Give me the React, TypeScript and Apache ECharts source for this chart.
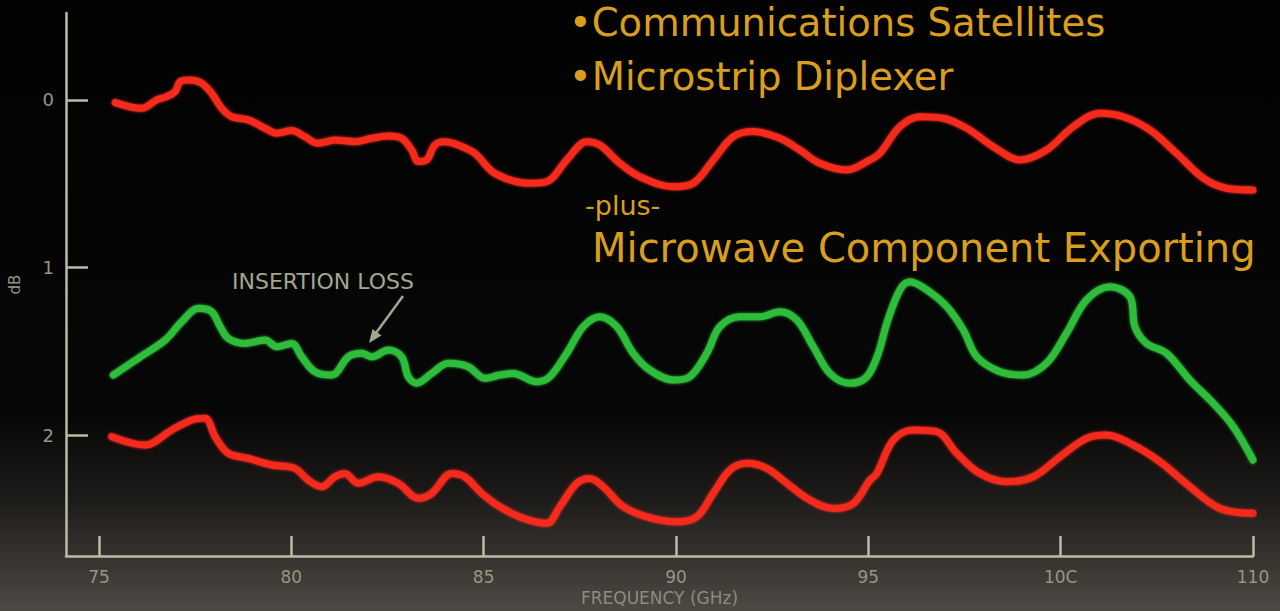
import React, { useEffect, useRef } from "react";
import * as echarts from "echarts";

// Frequency (GHz) and loss (dB) samples for each trace
const upperFreq = [75.42, 76.11, 76.5, 76.76, 76.98, 77.11, 77.37, 77.67, 77.93, 78.19, 78.45, 78.88, 79.32, 79.62, 80.01, 80.35, 80.7, 81.13, 81.65, 82.09, 82.52, 82.87, 83.13, 83.3, 83.52, 83.73, 83.99, 84.34, 84.77, 85.29, 86.2, 86.64, 87.16, 87.68, 88.02, 88.54, 89.06, 89.93, 90.45, 90.97, 91.49, 92.01, 92.7, 93.22, 93.74, 94.44, 95.04, 95.3, 95.82, 96.34, 96.95, 97.56, 98.25, 98.94, 99.63, 100.33, 101.02, 101.63, 102.32, 103.01, 103.71, 104.31, 105.0];
const upperLoss = [0.016, 0.05, 0.0, -0.02, -0.05, -0.109, -0.119, -0.1, -0.04, 0.05, 0.1, 0.119, 0.169, 0.199, 0.183, 0.219, 0.259, 0.239, 0.249, 0.229, 0.215, 0.229, 0.299, 0.368, 0.358, 0.269, 0.249, 0.269, 0.318, 0.438, 0.497, 0.488, 0.358, 0.249, 0.269, 0.378, 0.458, 0.518, 0.497, 0.358, 0.219, 0.189, 0.229, 0.299, 0.378, 0.418, 0.358, 0.318, 0.159, 0.1, 0.109, 0.169, 0.279, 0.358, 0.299, 0.159, 0.079, 0.1, 0.179, 0.318, 0.467, 0.527, 0.537];

const insertionFreq = [75.37, 76.02, 76.72, 77.15, 77.58, 77.93, 78.15, 78.36, 78.8, 79.32, 79.62, 80.01, 80.27, 80.61, 81.05, 81.48, 81.83, 82.09, 82.52, 82.87, 83.04, 83.26, 83.65, 84.08, 84.6, 85.03, 85.42, 85.77, 86.38, 86.72, 87.16, 87.59, 88.02, 88.46, 88.89, 89.32, 89.93, 90.36, 90.8, 91.14, 91.66, 92.18, 92.7, 93.14, 93.57, 94.0, 94.52, 94.96, 95.26, 95.48, 95.82, 96.08, 96.52, 97.04, 97.47, 97.82, 98.42, 99.03, 99.63, 100.15, 100.67, 101.28, 101.8, 101.93, 102.23, 102.75, 103.36, 103.97, 104.49, 105.0];
const insertionLoss = [1.642, 1.542, 1.433, 1.324, 1.244, 1.264, 1.353, 1.423, 1.453, 1.433, 1.473, 1.453, 1.533, 1.622, 1.642, 1.533, 1.512, 1.533, 1.493, 1.533, 1.652, 1.691, 1.632, 1.572, 1.592, 1.661, 1.642, 1.632, 1.682, 1.652, 1.512, 1.353, 1.294, 1.353, 1.512, 1.612, 1.672, 1.652, 1.512, 1.353, 1.294, 1.294, 1.264, 1.313, 1.473, 1.632, 1.691, 1.652, 1.512, 1.333, 1.134, 1.085, 1.134, 1.234, 1.373, 1.533, 1.622, 1.642, 1.572, 1.393, 1.194, 1.115, 1.174, 1.353, 1.453, 1.512, 1.672, 1.811, 1.95, 2.149];

const lowerFreq = [75.33, 76.2, 76.89, 77.41, 77.76, 78.02, 78.36, 78.88, 79.49, 80.09, 80.44, 80.79, 81.13, 81.39, 81.74, 82.26, 82.78, 83.3, 83.65, 84.17, 84.51, 84.95, 85.42, 86.03, 86.64, 86.98, 87.42, 87.76, 88.11, 88.63, 89.24, 90.02, 90.54, 90.97, 91.4, 91.84, 92.36, 92.88, 93.48, 94.09, 94.61, 95.04, 95.22, 95.65, 96.17, 96.78, 97.3, 97.9, 98.6, 99.29, 99.98, 100.67, 101.19, 101.89, 102.58, 103.36, 104.14, 105.0];
const lowerLoss = [2.01, 2.06, 1.97, 1.91, 1.9, 2.01, 2.109, 2.139, 2.179, 2.199, 2.269, 2.309, 2.249, 2.229, 2.288, 2.249, 2.288, 2.378, 2.348, 2.229, 2.249, 2.348, 2.428, 2.497, 2.527, 2.428, 2.288, 2.259, 2.309, 2.428, 2.488, 2.518, 2.488, 2.348, 2.209, 2.169, 2.199, 2.288, 2.388, 2.438, 2.408, 2.269, 2.229, 2.03, 1.97, 1.98, 2.109, 2.229, 2.279, 2.249, 2.13, 2.02, 2.0, 2.06, 2.159, 2.309, 2.438, 2.467];

// Axis ticks and their printed labels
const freqTicks = [75, 80, 85, 90, 95, 100, 105];
const freqTickLabels = ["75", "80", "85", "90", "95", "10C", "110"];
const dbTicks = [0, 1, 2];

const headline = ["\u2022Communications Satellites", "\u2022Microstrip Diplexer"];
const plusText = "-plus-";
const subline = "Microwave Component Exporting";
const calloutText = "INSERTION LOSS";

const RED = "#f3291d";
const GREEN = "#2fbd3a";
const GOLD = "#d99f1c";
const AXIS = "#b7bca4";
const LABEL = "#959683";
const CALLOUT = "#a2a68f";

const zip = (xs: number[], ys: number[]) => xs.map((x, i) => [x, ys[i]]);

export default function App() {
  const ref = useRef<HTMLDivElement>(null);

  useEffect(() => {
    document.body.style.margin = "0";
    const chart = echarts.init(ref.current!, undefined, { renderer: "svg" });

    const lineSeries = (name: string, data: number[][], color: string) => ({
      name,
      type: "line",
      data,
      smooth: 0.35,
      showSymbol: false,
      symbol: "none",
      lineStyle: { color, width: 7, cap: "round", join: "round", shadowColor: color, shadowBlur: 3 },
      z: 3,
    });

    const goldText = (text: string, x: number, y: number, fontSize: number) => ({
      type: "text",
      x,
      y,
      style: { text, fill: GOLD, fontSize, fontFamily: "DejaVu Sans", textVerticalAlign: "middle", verticalAlign: "middle" },
    });

    chart.setOption({
      animation: false,
      backgroundColor: {
        type: "linear",
        x: 0,
        y: 0,
        x2: 0,
        y2: 1,
        colorStops: [
          { offset: 0, color: "#020202" },
          { offset: 0.68, color: "#070707" },
          { offset: 0.82, color: "#1e1c1a" },
          { offset: 1, color: "#4d4943" },
        ],
      },
      grid: { left: 66, right: 27, top: 13, bottom: 55, containLabel: false, outerBoundsMode: "none" },
      xAxis: {
        type: "value",
        min: 74.142,
        max: 105,
        name: "FREQUENCY (GHz)",
        nameLocation: "middle",
        nameGap: 33,
        nameTextStyle: { color: "#8e8b7f", fontSize: 17, fontFamily: "DejaVu Sans" },
        axisLine: { show: true, onZero: false, lineStyle: { color: AXIS, width: 2.5 } },
        axisTick: {
          show: true,
          inside: true,
          length: 20,
          customValues: freqTicks,
          lineStyle: { color: AXIS, width: 2.5 },
        },
        axisLabel: {
          customValues: freqTicks,
          margin: 12,
          color: LABEL,
          fontSize: 17,
          fontFamily: "DejaVu Sans",
          formatter: (v: number) => freqTickLabels[freqTicks.indexOf(Math.round(v))] ?? "",
        },
        splitLine: { show: false },
      },
      yAxis: {
        type: "value",
        inverse: true,
        min: -0.519,
        max: 2.722,
        name: "dB",
        nameLocation: "middle",
        nameGap: 44,
        nameTextStyle: { color: LABEL, fontSize: 15, fontFamily: "DejaVu Sans" },
        axisLine: { show: true, onZero: false, lineStyle: { color: AXIS, width: 2.5 } },
        axisTick: {
          show: true,
          inside: true,
          length: 22,
          customValues: dbTicks,
          lineStyle: { color: AXIS, width: 2.5 },
        },
        axisLabel: {
          customValues: dbTicks,
          margin: 12,
          color: LABEL,
          fontSize: 18,
          fontFamily: "DejaVu Sans",
        },
        splitLine: { show: false },
      },
      series: [
        lineSeries("Upper", zip(upperFreq, upperLoss), RED),
        lineSeries("Insertion loss", zip(insertionFreq, insertionLoss), GREEN),
        lineSeries("Lower", zip(lowerFreq, lowerLoss), RED),
      ],
      graphic: [
        goldText(headline[0], 569, 22, 38.5),
        goldText(headline[1], 569, 76, 38.5),
        goldText(plusText, 585, 205, 27),
        goldText(subline, 592, 248, 40),
        {
          type: "text",
          x: 232,
          y: 281,
          style: { text: calloutText, fill: CALLOUT, fontSize: 22, fontFamily: "DejaVu Sans", textVerticalAlign: "middle", verticalAlign: "middle" },
        },
        {
          type: "line",
          shape: { x1: 403, y1: 296, x2: 376, y2: 333 },
          style: { stroke: CALLOUT, lineWidth: 2.5 },
        },
        {
          type: "polygon",
          shape: { points: [[369, 343], [381.5, 335.5], [372.5, 329]] },
          style: { fill: CALLOUT },
        },
      ],
    });

    return () => chart.dispose();
  }, []);

  return <div ref={ref} style={{ position: "fixed", left: 0, top: 0, width: 1280, height: 611 }} />;
}
